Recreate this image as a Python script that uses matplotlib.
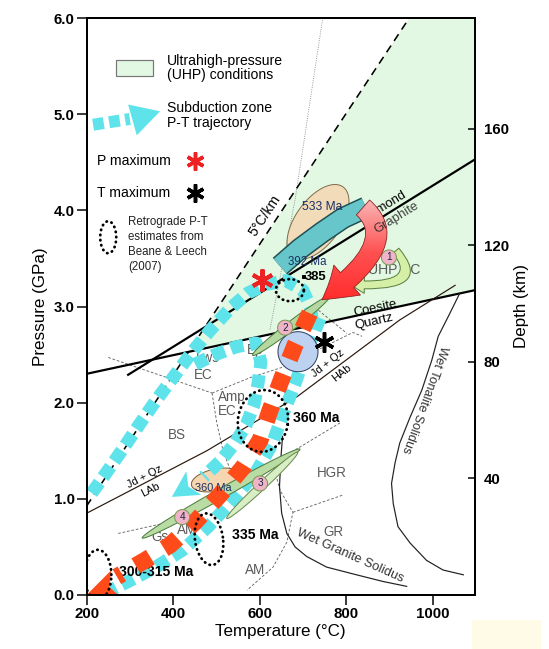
import numpy as np
import matplotlib
matplotlib.use('Agg')
import matplotlib.pyplot as plt
from matplotlib.patches import Polygon, Rectangle, FancyArrowPatch
from matplotlib.path import Path
from matplotlib.colors import LinearSegmentedColormap

plt.rcParams['font.family'] = ['Liberation Sans', 'DejaVu Sans']

# ---------------- data (T in deg C, P in GPa) ----------------
xticks = [200, 400, 600, 800, 1000]
yticks = [0.0, 1.0, 2.0, 3.0, 4.0, 5.0, 6.0]
depth_ticks = [40, 80, 120, 160]
KM_PER_GPA = 33

uhp_T = [436, 946, 1098, 1098, 436]
uhp_P = [2.53, 6.0, 6.0, 3.17, 2.53]

diamond_T = [296, 1098]
diamond_P = [2.29, 4.53]
coesite_T = [200, 1098]
coesite_P = [2.30, 3.17]
geotherm_T = [200, 946]
geotherm_P = [0.925, 6.0]
ab_T = [200, 478, 686, 924, 1052]
ab_P = [0.85, 1.50, 2.06, 2.86, 3.22]
dotted_T = [746, 682, 624]
dotted_P = [6.0, 4.11, 2.76]

tonalite_T = [1063, 1040, 1013, 998, 975, 948, 924, 913, 905, 909, 920, 948, 986, 1024, 1071]
tonalite_P = [3.14, 2.93, 2.69, 2.44, 2.13, 1.85, 1.58, 1.37, 1.16, 0.95, 0.71, 0.54, 0.36, 0.26, 0.21]
granite_T = [653, 649, 646, 651, 663, 682, 709, 755, 824, 886, 940]
granite_P = [1.65, 1.41, 1.13, 0.85, 0.64, 0.50, 0.40, 0.29, 0.21, 0.14, 0.09]

facies_lines = [
    ([250, 490], [2.47, 2.10]),
    ([490, 578, 654, 816, 837], [2.10, 2.26, 2.37, 2.73, 2.69]),
    ([728, 802], [2.99, 2.72]),
    ([490, 501, 515, 532], [2.10, 1.79, 1.51, 1.30]),
    ([273, 393, 439], [0.64, 0.76, 0.80]),
    ([786, 631, 647, 677, 663, 631, 571], [1.79, 1.37, 1.09, 0.86, 0.55, 0.29, 0.05]),
    ([677, 793], [0.86, 1.04]),
]

# subduction-zone P-T trajectory (cyan)
cyan_pro_T = [212, 250, 287, 323, 360, 400, 441, 485, 532, 573, 615, 661, 700, 719, 723]
cyan_pro_P = [1.06, 1.30, 1.54, 1.78, 2.02, 2.26, 2.51, 2.75, 2.98, 3.14, 3.23, 3.27, 3.17, 2.98, 2.76]
cyan_loop_T = [451, 492, 545, 592, 603, 596, 587, 569, 543, 511, 471]
cyan_loop_P = [2.40, 2.49, 2.58, 2.62, 2.42, 2.19, 1.98, 1.77, 1.58, 1.40, 1.23]
cyan_tip = (397, 1.02)
cyan_side_T = [740, 710, 682, 654, 629, 592, 538, 481, 423, 360, 296, 243]
cyan_side_P = [2.88, 2.55, 2.20, 1.88, 1.57, 1.28, 0.99, 0.71, 0.47, 0.29, 0.14, 0.02]

# retrograde path (red)
red_T = [716, 682, 652, 624, 601, 562, 508, 451, 393, 335, 270]
red_P = [2.93, 2.60, 2.26, 1.92, 1.61, 1.33, 1.04, 0.76, 0.52, 0.36, 0.19]
red_tip = (200, 0.0)
red_head_from = (261, 0.10)

teal_T = [647, 693, 744, 793, 846]
teal_P = [3.42, 3.60, 3.77, 3.92, 4.03]
red_arrow_T = [839, 932, 744]
red_arrow_P = [4.03, 3.66, 3.07]

pmax = (605, 3.28)
tmax = (750, 2.63)

circle_T = [899, 659, 601, 421]
circle_P = [3.51, 2.78, 1.16, 0.81]
circle_lab = ['1', '2', '3', '4']

facies_lab = ['BS', 'Lws', 'EC', 'Amp', 'EC', 'Ep', 'HGR', 'GR', 'AM', 'Gs', 'AM', 'UHP EC']
facies_T = [408, 481, 469, 535, 524, 589, 767, 770, 589, 370, 432, 912]
facies_P = [1.66, 2.46, 2.29, 2.06, 1.91, 2.55, 1.27, 0.66, 0.26, 0.60, 0.68, 3.38]

# ---------------- figure ----------------
W, H = 549, 649
fig = plt.figure(figsize=(W / 72, H / 72), dpi=72)
fig.patches.append(Rectangle((472 / W, 0), 68 / W, 29 / H, transform=fig.transFigure,
                             color='#fffbe6', zorder=0))
ax = fig.add_axes([86.6 / W, 1 - 595 / H, 388.4 / W, 577 / H])
XMIN, XMAX, YMIN, YMAX = 200, 1098, 0, 6
SX = 388.4 / (XMAX - XMIN)
SY = 577 / (YMAX - YMIN)

CYAN = '#5FE3EA'
RED = '#FF4A1A'
GREY = '#5a5a5a'


def ellipse(T0, P0, w, h, ang, **kw):
    t = np.linspace(0, 2 * np.pi, 160)
    a = np.radians(ang)
    x = w / 2 * np.cos(t)
    y = h / 2 * np.sin(t)
    xr = x * np.cos(a) - y * np.sin(a)
    yr = x * np.sin(a) + y * np.cos(a)
    p = Polygon(np.column_stack([T0 + xr / SX, P0 + yr / SY]), closed=True, **kw)
    ax.add_patch(p)
    return p


def arrowhead(tip, frm, length, width, **kw):
    dx = (tip[0] - frm[0]) * SX
    dy = (tip[1] - frm[1]) * SY
    n = np.hypot(dx, dy)
    ux, uy = dx / n, dy / n
    px, py = -uy, ux
    pts = [(0, 0), (-ux * length + px * width / 2, -uy * length + py * width / 2),
           (-ux * length * 0.75, -uy * length * 0.75),
           (-ux * length - px * width / 2, -uy * length - py * width / 2)]
    p = Polygon([(tip[0] + a / SX, tip[1] + b / SY) for a, b in pts], closed=True, **kw)
    ax.add_patch(p)
    return p


def dotted_ell(T0, P0, w, h, ang=0, z=6):
    p = ellipse(T0, P0, w, h, ang, fill=False, edgecolor='black', lw=2.8,
                linestyle=(0, (0.15, 1.7)), zorder=z)
    p.set_capstyle('round')
    return p


# UHP field
ax.fill(uhp_T, uhp_P, color='#e2f8e2', zorder=0.5, lw=0)

# facies boundaries
for ft, fp in facies_lines:
    ax.plot(ft, fp, color='#666666', lw=0.9, ls=(0, (3, 2)), zorder=1)
ax.plot(dotted_T, dotted_P, color='#888888', lw=0.9, ls=(0, (1, 1.5)), zorder=1)

# reaction lines
ax.plot(diamond_T, diamond_P, color='black', lw=2.2, zorder=1.5)
ax.plot(coesite_T, coesite_P, color='black', lw=2.2, zorder=1.5)
ax.plot(ab_T, ab_P, color='#2a1a10', lw=1.2, zorder=1.5)
ax.plot(tonalite_T, tonalite_P, color='#222222', lw=1.2, zorder=1.5)
ax.plot(granite_T, granite_P, color='#222222', lw=1.2, zorder=1.5)
ax.plot(geotherm_T, geotherm_P, color='black', lw=1.6, ls=(0, (5, 3.5)), zorder=1.6)

# tan ellipses
ellipse(735, 3.88, 86, 45, 54.5, facecolor='#f3d8b4', edgecolor='#7a6040', lw=1, alpha=0.9, zorder=1.4)
ellipse(499, 1.196, 50, 22, 12, facecolor='#f6d6b0', edgecolor='#7a6040', lw=1, zorder=2)

# facies labels
for lab, t, p in zip(facies_lab, facies_T, facies_P):
    ax.text(t, p, lab, color=GREY, fontsize=14 if lab == 'UHP EC' else 13.5,
            ha='center', va='center', zorder=2.5)

# cyan trajectory
for ct, cp in [(cyan_pro_T, cyan_pro_P), (cyan_loop_T, cyan_loop_P), (cyan_side_T, cyan_side_P)]:
    ax.plot(ct, cp, color=CYAN, lw=13, ls=(0, (1.0, 0.5)), dash_capstyle='butt', zorder=3)
arrowhead(cyan_tip, (cyan_loop_T[-1], cyan_loop_P[-1]), 26, 28, color=CYAN, lw=0, zorder=3)

# green bands
ellipse(673, 2.80, 97, 9, 37.5, facecolor='#b5d8a0', edgecolor='#4c7a3c', lw=1, zorder=3.3)
ellipse(511, 1.055, 181, 10, 29.4, facecolor='#b9dca5', edgecolor='#4c7a3c', lw=1, zorder=3.3)
ellipse(606, 1.14, 97, 8, 43, facecolor='#d8eec4', edgecolor='#6a8a50', lw=1, zorder=3.3)
g_path = Path([(915, 3.58), (990, 3.18), (809, 3.23)], [Path.MOVETO, Path.CURVE3, Path.CURVE3])
ax.add_patch(FancyArrowPatch(path=g_path, arrowstyle='simple,tail_width=0.6,head_width=1.3,head_length=1.1',
                             mutation_scale=13, facecolor='#d6efa6', edgecolor='#5a8040', lw=1, zorder=3.3))

# blue circle
ellipse(688.7, 2.53, 40, 40, 0, facecolor='#bcd2f0', edgecolor='#304060', lw=1, zorder=3.5)

# red retrograde path
ax.plot(red_T, red_P, color=RED, lw=17, ls=(0, (1, 0.95)), dash_capstyle='butt', zorder=4)
arrowhead(red_tip, red_head_from, 32, 30, color=RED, lw=0, zorder=4)

# teal band + gradient red arrow
ax.plot(teal_T, teal_P, color='#1f4f52', lw=22, solid_capstyle='butt', zorder=5)
ax.plot(teal_T, teal_P, color='#66c6c9', lw=19, solid_capstyle='butt', zorder=5.05)
r_path = Path(list(zip(red_arrow_T, red_arrow_P)), [Path.MOVETO, Path.CURVE3, Path.CURVE3])
r_arrow = FancyArrowPatch(path=r_path, arrowstyle='simple,tail_width=1.0,head_width=2.0,head_length=1.6',
                          mutation_scale=20, facecolor='none', edgecolor='#8a2020', lw=0.8, zorder=5.2)
ax.add_patch(r_arrow)
grad = np.linspace(0, 1, 256).reshape(-1, 1)
cmap = LinearSegmentedColormap.from_list('rg', ['#ff2020', '#ff5050', '#f8c8c8'])
im = ax.imshow(grad, extent=[700, 1000, 2.9, 4.2], origin='lower', cmap=cmap,
               aspect='auto', zorder=5.1, interpolation='bilinear')
im.set_clip_path(r_arrow)

# circles with numbers
for t, p, lab in zip(circle_T, circle_P, circle_lab):
    ellipse(t, p, 15, 15, 0, facecolor='#f0b4c8', edgecolor='#7a9a50', lw=1, zorder=4.5)
    ax.text(t, p, lab, fontsize=10, ha='center', va='center', color='#222244', zorder=4.6)

# dotted ellipses (retrograde estimates)
dotted_ell(607.7, 1.81, 50, 62, -8)
dotted_ell(483, 0.58, 28, 52, 8)
dotted_ell(226, 0.21, 27, 50, 0)
dotted_ell(670, 3.17, 28, 22, 0)

# asterisks
ax.plot(*pmax, marker=(6, 2, 0), ms=22, mew=4, color='#ee2222', zorder=6.5)
ax.plot(*tmax, marker=(6, 2, 0), ms=20, mew=3.5, color='black', zorder=6.5)

# reaction / curve labels
ax.text(612, 3.95, '5°C/km', fontsize=14, rotation=56.5, ha='center', va='center', zorder=6)
ax.text(886, 4.04, 'Diamond', fontsize=13, rotation=31.5, ha='center', va='center', zorder=1.6)
ax.text(916, 3.92, 'Graphite', fontsize=13, rotation=31.5, ha='center', va='center',
        color='#222222', alpha=0.85, zorder=5.3)
ax.text(867, 2.98, 'Coesite', fontsize=13, rotation=12, ha='center', va='center', zorder=6)
ax.text(864, 2.84, 'Quartz', fontsize=13, rotation=13, ha='center', va='center', zorder=6)
ax.text(759, 2.41, 'Jd + Qz', fontsize=11, rotation=38, ha='center', va='center', zorder=6)
ax.text(790, 2.31, 'HAb', fontsize=11, rotation=38, ha='center', va='center', zorder=6)
ax.text(335, 1.23, 'Jd + Qz', fontsize=11, rotation=27, ha='center', va='center', zorder=6)
ax.text(347, 1.09, 'LAb', fontsize=11, rotation=27, ha='center', va='center', zorder=6)
ax.text(982, 2.03, 'Wet Tonalite Solidus', fontsize=12.5, rotation=-110, ha='center', va='center',
        color='#333333', zorder=6)
ax.text(809, 0.41, 'Wet Granite Solidus', fontsize=13, rotation=-24, ha='center', va='center',
        color='#333333', zorder=6)

# ages
NAVY = '#1a2f66'
ax.text(744, 4.03, '533 Ma', fontsize=12, color=NAVY, ha='center', va='center', zorder=6)
ax.text(709, 3.46, '392 Ma', fontsize=11.5, color=NAVY, ha='center', va='center', zorder=6)
ax.plot(700, 3.32, marker='s', ms=3, color='black', zorder=6)
ax.text(730, 3.31, '385', fontsize=13, fontweight='bold', ha='center', va='center', zorder=6)
ax.text(492, 1.11, '360 Ma', fontsize=11, color=NAVY, ha='center', va='center', zorder=6)
ax.text(732, 1.84, '360 Ma', fontsize=14, fontweight='bold', ha='center', va='center', zorder=6)
ax.text(589, 0.62, '335 Ma', fontsize=14, fontweight='bold', ha='center', va='center', zorder=6)
ax.text(360, 0.24, '300-315 Ma', fontsize=14, fontweight='bold', ha='center', va='center', zorder=3.9)

# ---------------- in-plot legend ----------------
ax.add_patch(Rectangle((268, 5.40), 85.5, 0.16, facecolor='#e2f8e2', edgecolor='#777777', lw=1.2, zorder=6))
ax.text(386, 5.55, 'Ultrahigh-pressure', fontsize=14, va='center', zorder=6)
ax.text(386, 5.41, '(UHP) conditions', fontsize=14, va='center', zorder=6)
ax.plot([215, 300], [4.89, 4.95], color=CYAN, lw=12, ls=(0, (0.9, 0.45)), dash_capstyle='butt', zorder=6)
ax.add_patch(Polygon([(296, 5.10), (370, 5.03), (316, 4.78)], closed=True, color=CYAN, lw=0, zorder=6))
ax.text(386, 5.06, 'Subduction zone', fontsize=14, va='center', zorder=6)
ax.text(386, 4.91, 'P-T trajectory', fontsize=14, va='center', zorder=6)
ax.text(224, 4.51, 'P maximum', fontsize=14, va='center', zorder=6)
ax.plot(451, 4.51, marker=(6, 2, 0), ms=18, mew=3.5, color='#ee2222', zorder=6)
ax.text(224, 4.18, 'T maximum', fontsize=14, va='center', zorder=6)
ax.plot(451, 4.18, marker=(6, 2, 0), ms=18, mew=3.5, color='black', zorder=6)
dotted_ell(250, 3.72, 16, 32, 0)
for i, line in enumerate(['Retrograde P-T', 'estimates from', 'Beane & Leech', '(2007)']):
    ax.text(296, 3.88 - i * 0.155, line, fontsize=11.5, va='center', color='#222222', zorder=6)

# ---------------- axes ----------------
ax.set_xlim(XMIN, XMAX)
ax.set_ylim(YMIN, YMAX)
ax.set_xticks(xticks)
ax.set_yticks(yticks)
ax.set_xticklabels([str(v) for v in xticks])
ax.set_yticklabels(['%.1f' % v for v in yticks])
ax.tick_params(axis='both', direction='out', length=10, width=1.5, labelsize=15, pad=2)
for lab in ax.get_xticklabels() + ax.get_yticklabels():
    lab.set_fontweight('bold')
ax.tick_params(top=False, right=False)
for s in ax.spines.values():
    s.set_linewidth(2)
ax.set_xlabel('Temperature (°C)', fontsize=17, labelpad=3)
ax.set_ylabel('Pressure (GPa)', fontsize=17, labelpad=6)

ax2 = ax.twinx()
ax2.set_ylim(YMIN * KM_PER_GPA, YMAX * KM_PER_GPA)
ax2.set_yticks(depth_ticks)
ax2.set_yticklabels([str(v) for v in depth_ticks])
ax2.tick_params(axis='y', direction='in', length=7, width=1.5, labelsize=15, pad=9)
for lab in ax2.get_yticklabels():
    lab.set_fontweight('bold')
for s in ax2.spines.values():
    s.set_linewidth(2)
ax2.set_ylabel('Depth (km)', fontsize=17, labelpad=5)

fig.savefig('out.png', dpi=72)
